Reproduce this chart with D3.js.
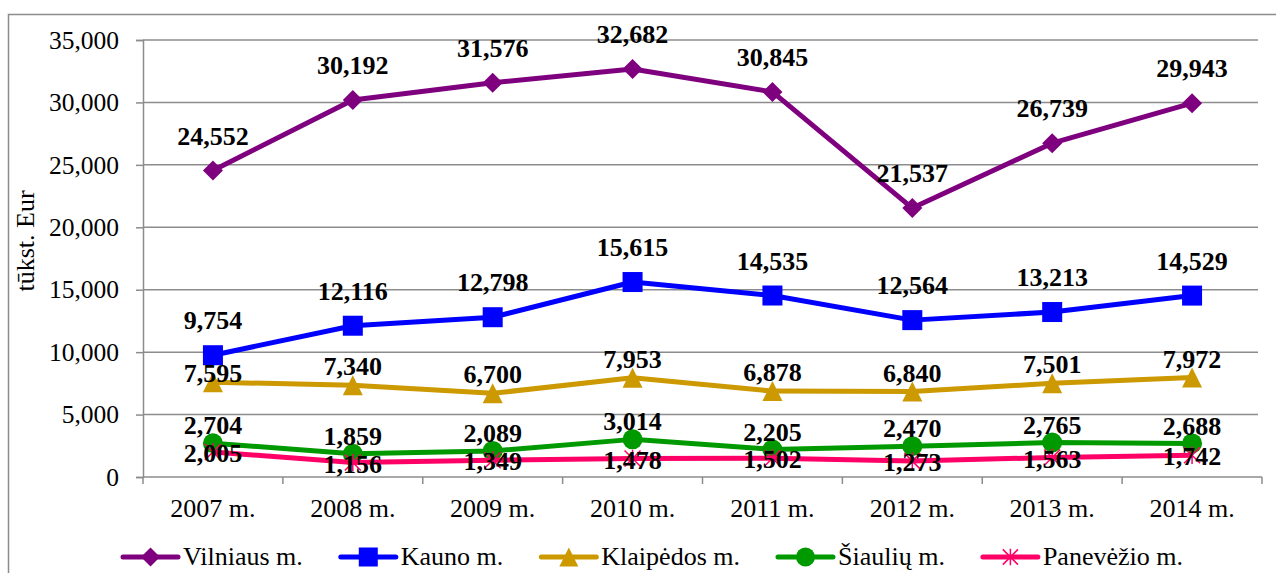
<!DOCTYPE html>
<html>
<head>
<meta charset="utf-8">
<script src="https://cdn.jsdelivr.net/npm/d3@7"></script>
<style>
  html, body { margin: 0; padding: 0; background: #fff; }
  svg text { font-family: "Liberation Serif", "Times New Roman", serif; }
</style>
</head>
<body>
<svg id="chart" width="1276" height="573"></svg>
<script>
// Savivaldybių duomenys, tūkst. Eur
const years = ["2007 m.", "2008 m.", "2009 m.", "2010 m.", "2011 m.", "2012 m.", "2013 m.", "2014 m."];
const vilnius    = [24552, 30192, 31576, 32682, 30845, 21537, 26739, 29943];
const kaunas     = [9754, 12116, 12798, 15615, 14535, 12564, 13213, 14529];
const klaipeda   = [7595, 7340, 6700, 7953, 6878, 6840, 7501, 7972];
const siauliai   = [2704, 1859, 2089, 3014, 2205, 2470, 2765, 2688];
const panevezys  = [2005, 1156, 1349, 1478, 1502, 1273, 1563, 1742];
const yTicks     = [0, 5000, 10000, 15000, 20000, 25000, 30000, 35000];

const series = [
  { name: "Vilniaus m.",  values: vilnius,   color: "#7F007F", marker: "diamond",  dy: -35 },
  { name: "Kauno m.",     values: kaunas,    color: "#0000FF", marker: "square",   dy: -35 },
  { name: "Klaipėdos m.", values: klaipeda,  color: "#CC9900", marker: "triangle", dy: -19 },
  { name: "Šiaulių m.",   values: siauliai,  color: "#009900", marker: "circle",   dy: -18 },
  { name: "Panevėžio m.", values: panevezys, color: "#FF0066", marker: "star",     dy: 1 }
];
// a label pushed down so it clears the marker above it
const labelNudge = { "Klaipėdos m.": { 0: 10 } };

const FONT = "Liberation Serif, Times New Roman, serif";
const svg = d3.select("#chart").attr("font-family", FONT);
const W = 1276, H = 573;
const plot = { left: 143, right: 1262, top: 40, bottom: 477 };

// outer frame of the chart area
svg.append("rect")
  .attr("x", 8.5).attr("y", 14.5)
  .attr("width", W + 10).attr("height", H + 10)
  .attr("fill", "none").attr("stroke", "#8c8c8c").attr("stroke-width", 1.5);

const x = d3.scaleBand().domain(years).range([plot.left, plot.right]).padding(0);
const y = d3.scaleLinear().domain([0, 35000]).range([plot.bottom, plot.top]);
const cx = d => x(d) + x.bandwidth() / 2;

const gridColor = "#8c8c8c";

// horizontal gridlines
svg.append("g")
  .selectAll("line")
  .data(yTicks.filter(t => t > 0))
  .join("line")
  .attr("x1", plot.left).attr("x2", 1258)
  .attr("y1", d => y(d)).attr("y2", d => y(d))
  .attr("stroke", gridColor).attr("stroke-width", 1.5);

// y axis
const yAxis = svg.append("g")
  .attr("transform", `translate(${plot.left},0)`)
  .call(d3.axisLeft(y).tickValues(yTicks).tickSize(7).tickPadding(17)
    .tickFormat(d3.format(",")));
yAxis.attr("font-family", FONT).attr("font-size", 25.5);
yAxis.select(".domain").attr("stroke", gridColor).attr("stroke-width", 1.5);
yAxis.selectAll(".tick line").attr("stroke", gridColor).attr("stroke-width", 1.5);
yAxis.selectAll(".tick text").attr("fill", "#000");

// x axis with ticks between categories
const xg = svg.append("g").attr("transform", `translate(0,${plot.bottom})`);
xg.append("line")
  .attr("x1", plot.left).attr("x2", plot.right)
  .attr("stroke", gridColor).attr("stroke-width", 1.5);
const boundaries = years.map(d => x(d)).concat([plot.right]);
xg.selectAll("line.tk")
  .data(boundaries)
  .join("line").attr("class", "tk")
  .attr("x1", d => d).attr("x2", d => d)
  .attr("y1", 0).attr("y2", 7)
  .attr("stroke", gridColor).attr("stroke-width", 1.5);
xg.selectAll("text")
  .data(years)
  .join("text")
  .attr("x", d => cx(d)).attr("y", 40)
  .attr("text-anchor", "middle")
  .attr("font-size", 26).attr("fill", "#000")
  .text(d => d);

// y axis title
svg.append("text")
  .attr("transform", `translate(34,241) rotate(-90)`)
  .attr("text-anchor", "middle")
  .attr("font-size", 26).attr("fill", "#000")
  .text("tūkst. Eur");

// marker shapes
function drawMarker(g, type, color, px, py, scale = 1) {
  if (type === "diamond") {
    const s = 10 * scale;
    g.append("path").attr("d", `M${px},${py - s}L${px + s},${py}L${px},${py + s}L${px - s},${py}Z`).attr("fill", color);
  } else if (type === "square") {
    const s = 10 * scale;
    g.append("rect").attr("x", px - s).attr("y", py - s).attr("width", 2 * s).attr("height", 2 * s).attr("fill", color);
  } else if (type === "triangle") {
    const s = 10 * scale;
    g.append("path").attr("d", `M${px},${py - s}L${px + s},${py + s}L${px - s},${py + s}Z`).attr("fill", color);
  } else if (type === "circle") {
    g.append("circle").attr("cx", px).attr("cy", py).attr("r", 10 * scale).attr("fill", color);
  } else if (type === "star") {
    const s = 8 * scale;
    g.append("path")
      .attr("d", `M${px - s},${py - s}L${px + s},${py + s}M${px - s},${py + s}L${px + s},${py - s}M${px},${py - s * 1.1}L${px},${py + s * 1.1}`)
      .attr("stroke", color).attr("stroke-width", 1.5).attr("fill", "none");
  }
}

const line = d3.line().x((d, i) => cx(years[i])).y(d => y(d));

// series lines and markers
series.forEach(s => {
  const g = svg.append("g");
  g.append("path")
    .datum(s.values)
    .attr("d", line)
    .attr("fill", "none")
    .attr("stroke", s.color)
    .attr("stroke-width", 5)
    .attr("stroke-linejoin", "round");
  s.values.forEach((v, i) => drawMarker(g, s.marker, s.color, cx(years[i]), y(v)));
});

// value labels
const fmt = d3.format(",");
series.forEach(s => {
  const nudge = labelNudge[s.name] || {};
  svg.append("g")
    .selectAll("text")
    .data(s.values)
    .join("text")
    .attr("x", (d, i) => cx(years[i]))
    .attr("y", (d, i) => y(d) + s.dy + (nudge[i] || 0))
    .attr("dy", "0.35em")
    .attr("text-anchor", "middle")
    .attr("font-size", 26).attr("font-weight", "bold").attr("fill", "#000")
    .text(d => fmt(d));
});

// legend, laid out left to right from measured text widths
const legendLineY = 557, legendTextY = 565;
let lx = 123;
series.forEach(s => {
  const g = svg.append("g");
  g.append("line")
    .attr("x1", lx).attr("x2", lx + 55)
    .attr("y1", legendLineY).attr("y2", legendLineY)
    .attr("stroke", s.color).attr("stroke-width", 5).attr("stroke-linecap", "round");
  drawMarker(g, s.marker, s.color, lx + 27.5, legendLineY, 0.95);
  const t = g.append("text")
    .attr("x", lx + 60).attr("y", legendTextY)
    .attr("font-size", 26).attr("fill", "#000")
    .text(s.name);
  lx += 60 + t.node().getComputedTextLength() + 38;
});
</script>
</body>
</html>
